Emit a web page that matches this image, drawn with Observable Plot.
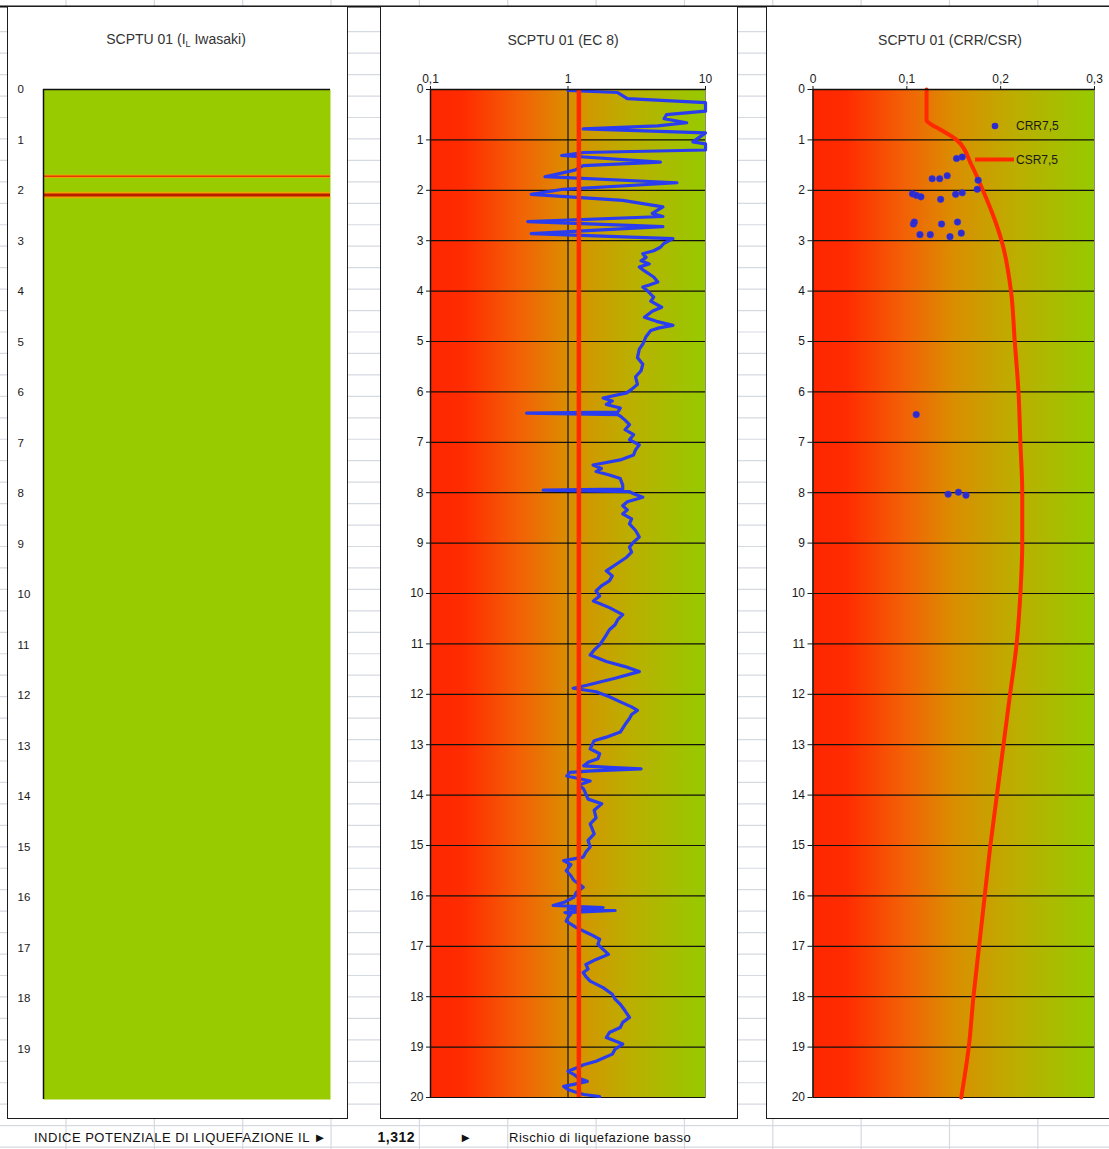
<!DOCTYPE html>
<html><head><meta charset="utf-8">
<script src="https://cdn.jsdelivr.net/npm/d3@7"></script>
<script src="https://cdn.jsdelivr.net/npm/@observablehq/plot@0.6"></script>
<style>
body{margin:0;background:#fff;font-family:Arial,"Liberation Sans",sans-serif;}
#page{position:relative;width:1109px;height:1149px;overflow:hidden;background:#fff;}
.panel{position:absolute;background:#fff;border:1.5px solid #1c1c1c;box-sizing:border-box;}
.title{position:absolute;font-size:14px;color:#333;white-space:nowrap;transform:translate(-50%,-50%);}
.txt{position:absolute;font-size:13px;letter-spacing:0.5px;color:#111;white-space:nowrap;transform:translateY(-50%);}
</style></head><body>
<svg width="0" height="0" style="position:absolute">
  <defs>
    <linearGradient id="bgGrad" x1="0" y1="0" x2="1" y2="0">
      <stop offset="0" stop-color="#ff2600"/>
      <stop offset="0.12" stop-color="#ff2c00"/>
      <stop offset="0.32" stop-color="#f36006"/>
      <stop offset="0.5" stop-color="#da8e00"/>
      <stop offset="0.72" stop-color="#bcae00"/>
      <stop offset="1" stop-color="#96ca00"/>
    </linearGradient>
  </defs>
</svg>
<div id="page"></div>
<script>
// ---------- DATA ----------
const depthTicks = [0,1,2,3,4,5,6,7,8,9,10,11,12,13,14,15,16,17,18,19,20];
const iwasakiTicks = [0,1,2,3,4,5,6,7,8,9,10,11,12,13,14,15,16,17,18,19];
const gridDepths = [1,2,3,4,5,6,7,8,9,10,11,12,13,14,15,16,17,18,19,20];
const ec8Ticks = [0.1, 1, 10];
const crrTicks = [0, 0.1, 0.2, 0.3];

// Panel 1: Iwasaki IL layers (depth, m)
const iwasakiDepth = [1.72, 2.09];

// Panel 2: EC 8 safety factor profile
const ec8Depth = [0.02,0.06,0.18,0.26,0.43,0.50,0.58,0.66,0.72,0.78,0.86,1.04,1.08,1.20,1.25,1.31,1.44,1.51,1.60,1.73,1.85,1.98,2.08,2.20,2.33,2.46,2.52,2.62,2.72,2.86,2.96,3.05,3.13,3.20,3.26,3.33,3.40,3.46,3.52,3.60,3.72,3.82,3.88,3.92,4.00,4.12,4.20,4.32,4.40,4.52,4.60,4.68,4.73,4.78,4.90,5.05,5.15,5.32,5.45,5.58,5.70,5.85,5.95,6.02,6.12,6.18,6.25,6.32,6.40,6.42,6.45,6.48,6.56,6.65,6.75,6.85,6.95,7.05,7.15,7.25,7.35,7.45,7.52,7.58,7.65,7.72,7.85,7.93,7.95,7.98,8.02,8.09,8.18,8.26,8.34,8.42,8.52,8.62,8.75,8.88,8.98,9.08,9.18,9.28,9.40,9.55,9.65,9.75,9.85,9.95,10.05,10.15,10.28,10.42,10.52,10.62,10.72,10.82,10.92,11.02,11.12,11.22,11.35,11.45,11.55,11.68,11.82,11.88,11.95,12.05,12.15,12.25,12.32,12.40,12.48,12.60,12.75,12.85,12.92,13.00,13.08,13.18,13.28,13.35,13.42,13.45,13.48,13.52,13.55,13.62,13.72,13.80,13.88,14.08,14.17,14.30,14.45,14.57,14.67,14.77,14.90,15.03,15.13,15.23,15.30,15.38,15.50,15.60,15.69,15.76,15.83,15.93,16.03,16.12,16.19,16.23,16.26,16.29,16.33,16.36,16.43,16.50,16.63,16.76,16.86,16.96,17.06,17.16,17.26,17.36,17.45,17.52,17.60,17.69,17.82,17.95,18.05,18.15,18.28,18.41,18.51,18.61,18.71,18.81,18.94,19.04,19.14,19.28,19.35,19.41,19.48,19.54,19.62,19.68,19.74,19.78,19.84,19.88,19.94,19.98];
const ec8FS = [1.0,2.3,2.7,10,10,5.2,5.0,7.3,4.5,1.29,10,8.1,10,10,1.3,0.9,4.7,1.29,1.12,0.68,6.2,0.92,0.54,2.5,4.9,4.1,4.9,0.51,4.9,0.54,5.8,5.0,4.7,4.2,3.5,3.7,3.4,3.9,3.3,3.6,4.2,4.5,3.9,3.5,3.8,4.2,4.0,4.8,4.1,3.6,4.4,5.8,4.6,4.0,3.7,3.5,3.3,3.2,3.5,3.4,3.1,3.2,2.9,2.67,1.8,2.1,1.9,2.4,2.3,0.50,2.3,2.4,2.6,2.8,2.6,3.0,2.8,3.3,3.1,3.0,2.4,1.52,1.75,1.6,2.0,2.4,2.5,2.5,0.66,2.8,3.0,3.5,2.7,2.5,2.7,2.5,2.9,2.8,3.1,3.3,3.0,2.8,2.9,2.67,2.3,1.9,2.1,2.0,1.75,1.6,1.7,1.53,2.0,2.5,2.3,2.2,2.0,1.9,1.8,1.7,1.55,1.45,1.9,2.6,3.3,2.2,1.37,1.09,1.6,2.0,2.4,2.9,3.2,2.9,2.8,2.6,2.4,1.9,1.55,1.5,1.45,1.7,1.65,1.4,1.30,2.0,3.4,1.5,1.03,0.98,1.45,1.2,1.30,1.4,1.76,1.55,1.6,1.45,1.5,1.55,1.4,1.45,1.35,1.29,0.93,1.05,0.97,1.05,1.10,1.2,1.29,1.15,1.10,0.95,0.78,1.8,1.0,2.2,0.95,1.05,1.0,0.97,1.15,1.45,1.7,1.65,1.8,1.97,1.6,1.35,1.4,1.29,1.35,1.45,1.8,2.1,2.2,2.4,2.6,2.8,2.5,2.4,2.0,1.9,2.5,2.2,2.1,1.6,1.3,1.16,1.0,1.10,1.2,1.38,1.1,0.93,1.0,1.10,1.3,1.7];
const fsThreshold = [1.2];

// Panel 3: CRR points and CSR curve
const crrDepth = [1.37,1.34,1.77,1.77,1.71,1.80,1.98,2.07,2.10,2.13,2.18,2.08,2.05,2.67,2.63,2.67,2.63,2.88,2.88,2.92,2.85,6.45,8.03,7.99,8.05];
const crrValue = [0.153,0.159,0.127,0.135,0.143,0.176,0.175,0.106,0.110,0.115,0.136,0.152,0.159,0.107,0.108,0.137,0.154,0.114,0.125,0.146,0.158,0.110,0.144,0.155,0.163];
const csrDepth = [0,0.62,0.68,0.8,1.0,1.5,2.0,2.5,3.0,4.0,5.0,6.0,7.0,8.0,9.0,10.0,11.0,12.0,13.0,14.0,15.0,16.0,17.0,18.0,19.0,20.0];
const csrValue = [0.121,0.121,0.125,0.136,0.153,0.169,0.181,0.192,0.201,0.211,0.215,0.219,0.221,0.223,0.223,0.221,0.217,0.210,0.203,0.196,0.189,0.183,0.177,0.171,0.166,0.158];

const titles = ["SCPTU 01 (I<sub style='font-size:9px'>L</sub> Iwasaki)", "SCPTU 01 (EC 8)", "SCPTU 01 (CRR/CSR)"];
const legendLabels = ["CRR7,5", "CSR7,5"];
const footer = ["INDICE POTENZIALE DI LIQUEFAZIONE IL \u25BA", "1,312", "\u25BA", "Rischio di liquefazione basso"];

// ---------- BUILD ----------
const ec8 = ec8Depth.map((d, i) => ({depth: d, fs: ec8FS[i]}));
const crr = crrDepth.map((d, i) => ({depth: d, v: crrValue[i]}));
const csr = csrDepth.map((d, i) => ({depth: d, v: csrValue[i]}));
const comma = d => String(d).replace(".", ",");
const page = document.getElementById("page");

// spreadsheet background grid
const ns = "http://www.w3.org/2000/svg";
const bg = document.createElementNS(ns, "svg");
bg.setAttribute("width", 1109); bg.setAttribute("height", 1149);
bg.style.position = "absolute"; bg.style.left = "0"; bg.style.top = "0";
let g = "";
for (let n = 0; n < 53; n++) { const y = 31.7 + 21.45 * n; g += `<line x1="0" x2="1109" y1="${y}" y2="${y}" stroke="#d5d9e0" stroke-width="1.2"/>`; }
for (let n = 0; n < 12; n++) { const x = 66 + 88.35 * n; g += `<line x1="${x}" x2="${x}" y1="0" y2="1149" stroke="#d5d9e0" stroke-width="1.2"/>`; }
g += `<line x1="0" x2="1109" y1="6.5" y2="6.5" stroke="#111" stroke-width="2"/>`;
bg.innerHTML = g;
page.appendChild(bg);

function panel(left, width) {
  const d = document.createElement("div");
  d.className = "panel";
  d.style.left = left + "px"; d.style.top = "6px";
  d.style.width = width + "px"; d.style.height = (1119 - 6) + "px";
  page.appendChild(d);
}
panel(7, 341); panel(380, 358); panel(766, 350);

function title(html, cx) {
  const t = document.createElement("div");
  t.className = "title"; t.innerHTML = html;
  t.style.left = cx + "px"; t.style.top = "40px";
  page.appendChild(t);
}
title(titles[0], 176); title(titles[1], 563); title(titles[2], 950);

function place(svg, left) {
  svg.style.position = "absolute"; svg.style.left = left + "px"; svg.style.top = "0px";
  svg.style.maxWidth = "none";
  page.appendChild(svg);
}
const style = {background: "transparent", fontFamily: "Arial, 'Liberation Sans', sans-serif", fontSize: "12px", color: "#1a1a1a", overflow: "visible"};

// Panel 1
place(Plot.plot({
  width: 347, height: 1110, marginLeft: 43, marginRight: 17, marginTop: 89, marginBottom: 11,
  style,
  x: {domain: [0, 1], axis: null},
  y: {domain: [0, 20], reverse: true, axis: null},
  marks: [
    Plot.frame({fill: "#99cc00"}),
    Plot.ruleY(iwasakiDepth, {y: d => d, stroke: "#eea400", strokeWidth: (d, i) => i === 0 ? 3.5 : 6.5}),
    Plot.ruleY(iwasakiDepth, {y: d => d, stroke: (d, i) => i === 0 ? "#e23a08" : "#b81e00", strokeWidth: (d, i) => i === 0 ? 1.5 : 3}),
    Plot.ruleY([0], {stroke: "#111", strokeWidth: 1.5}),
    Plot.ruleX([0], {stroke: "#111", strokeWidth: 1.5}),
    Plot.axisY({ticks: iwasakiTicks, tickSize: 0, tickPadding: 0, textAnchor: "start", dx: -26, fontSize: 11.5, label: null})
  ]
}), 0);

// Panel 2
place(Plot.plot({
  width: 357, height: 1110, marginLeft: 50, marginRight: 32, marginTop: 89, marginBottom: 13,
  style,
  x: {type: "log", domain: [0.1, 10], axis: null},
  y: {domain: [0, 20], reverse: true, axis: null},
  marks: [
    Plot.frame({fill: "url(#bgGrad)"}),
    Plot.frame({stroke: "#8c8c6a", strokeWidth: 1}),
    Plot.ruleY(gridDepths, {y: d => d, stroke: "#111", strokeWidth: 1.2}),
    Plot.ruleX([1], {stroke: "#111", strokeWidth: 1.2}),
    Plot.line(ec8, {x: "fs", y: "depth", stroke: "#2a3cf0", strokeWidth: 3.2, strokeLinejoin: "round"}),
    Plot.ruleX(fsThreshold, {stroke: "#ff2a00", strokeWidth: 4.5}),
    Plot.ruleY([0], {stroke: "#111", strokeWidth: 1.5}),
    Plot.ruleX([0.1], {stroke: "#111", strokeWidth: 1.5}),
    Plot.axisX({anchor: "top", ticks: ec8Ticks, tickFormat: comma, tickSize: 4, tickPadding: 3, fontSize: 12, label: null}),
    Plot.axisY({ticks: depthTicks, tickSize: 4, tickPadding: 3, fontSize: 12, label: null})
  ]
}), 380);

// Panel 3
place(Plot.plot({
  width: 343, height: 1110, marginLeft: 46.5, marginRight: 15, marginTop: 89, marginBottom: 13,
  style,
  x: {domain: [0, 0.3], axis: null},
  y: {domain: [0, 20], reverse: true, axis: null},
  marks: [
    Plot.frame({fill: "url(#bgGrad)"}),
    Plot.frame({stroke: "#8c8c6a", strokeWidth: 1}),
    Plot.ruleY(gridDepths, {y: d => d, stroke: "#111", strokeWidth: 1.2}),
    Plot.line(csr, {x: "v", y: "depth", stroke: "#ff2a00", strokeWidth: 4, curve: "monotone-y"}),
    Plot.dot(crr, {x: "v", y: "depth", r: 3.3, fill: "#2b2bd0", stroke: "#3a3ae0", strokeWidth: 0.5}),
    Plot.ruleY([0], {stroke: "#111", strokeWidth: 1.5}),
    Plot.ruleX([0], {stroke: "#111", strokeWidth: 1.5}),
    Plot.axisX({anchor: "top", ticks: crrTicks, tickFormat: comma, tickSize: 4, tickPadding: 3, fontSize: 12, label: null}),
    Plot.axisY({ticks: depthTicks, tickSize: 5, tickPadding: 3, fontSize: 12, label: null})
  ]
}), 766);

// Legend for panel 3
const lg = document.createElementNS(ns, "svg");
lg.setAttribute("width", 1109); lg.setAttribute("height", 200);
lg.style.position = "absolute"; lg.style.left = "0"; lg.style.top = "0";
lg.innerHTML = `<circle cx="995" cy="126" r="3.3" fill="#2b2bd0"/>
<text x="1016" y="126" dy="0.35em" font-family="Arial, 'Liberation Sans', sans-serif" font-size="12" fill="#1a1a1a">${legendLabels[0]}</text>
<line x1="975" x2="1014" y1="159.5" y2="159.5" stroke="#ff2a00" stroke-width="4"/>
<text x="1016" y="159.5" dy="0.35em" font-family="Arial, 'Liberation Sans', sans-serif" font-size="12" fill="#1a1a1a">${legendLabels[1]}</text>`;
page.appendChild(lg);

// Footer row
function txt(s, x, opts = {}) {
  const t = document.createElement("div");
  t.className = "txt"; t.textContent = s;
  t.style.top = "1137px";
  if (opts.right) { t.style.right = (1109 - x) + "px"; } else { t.style.left = x + "px"; }
  if (opts.bold) { t.style.fontWeight = "bold"; t.style.fontSize = "14px"; }
  if (opts.center) { t.style.left = x + "px"; t.style.transform = "translate(-50%,-50%)"; }
  page.appendChild(t);
}
txt(footer[0], 34);
txt(footer[1], 415, {right: true, bold: true});
txt(footer[2], 466, {center: true});
txt(footer[3], 509);
</script>
</body></html>
